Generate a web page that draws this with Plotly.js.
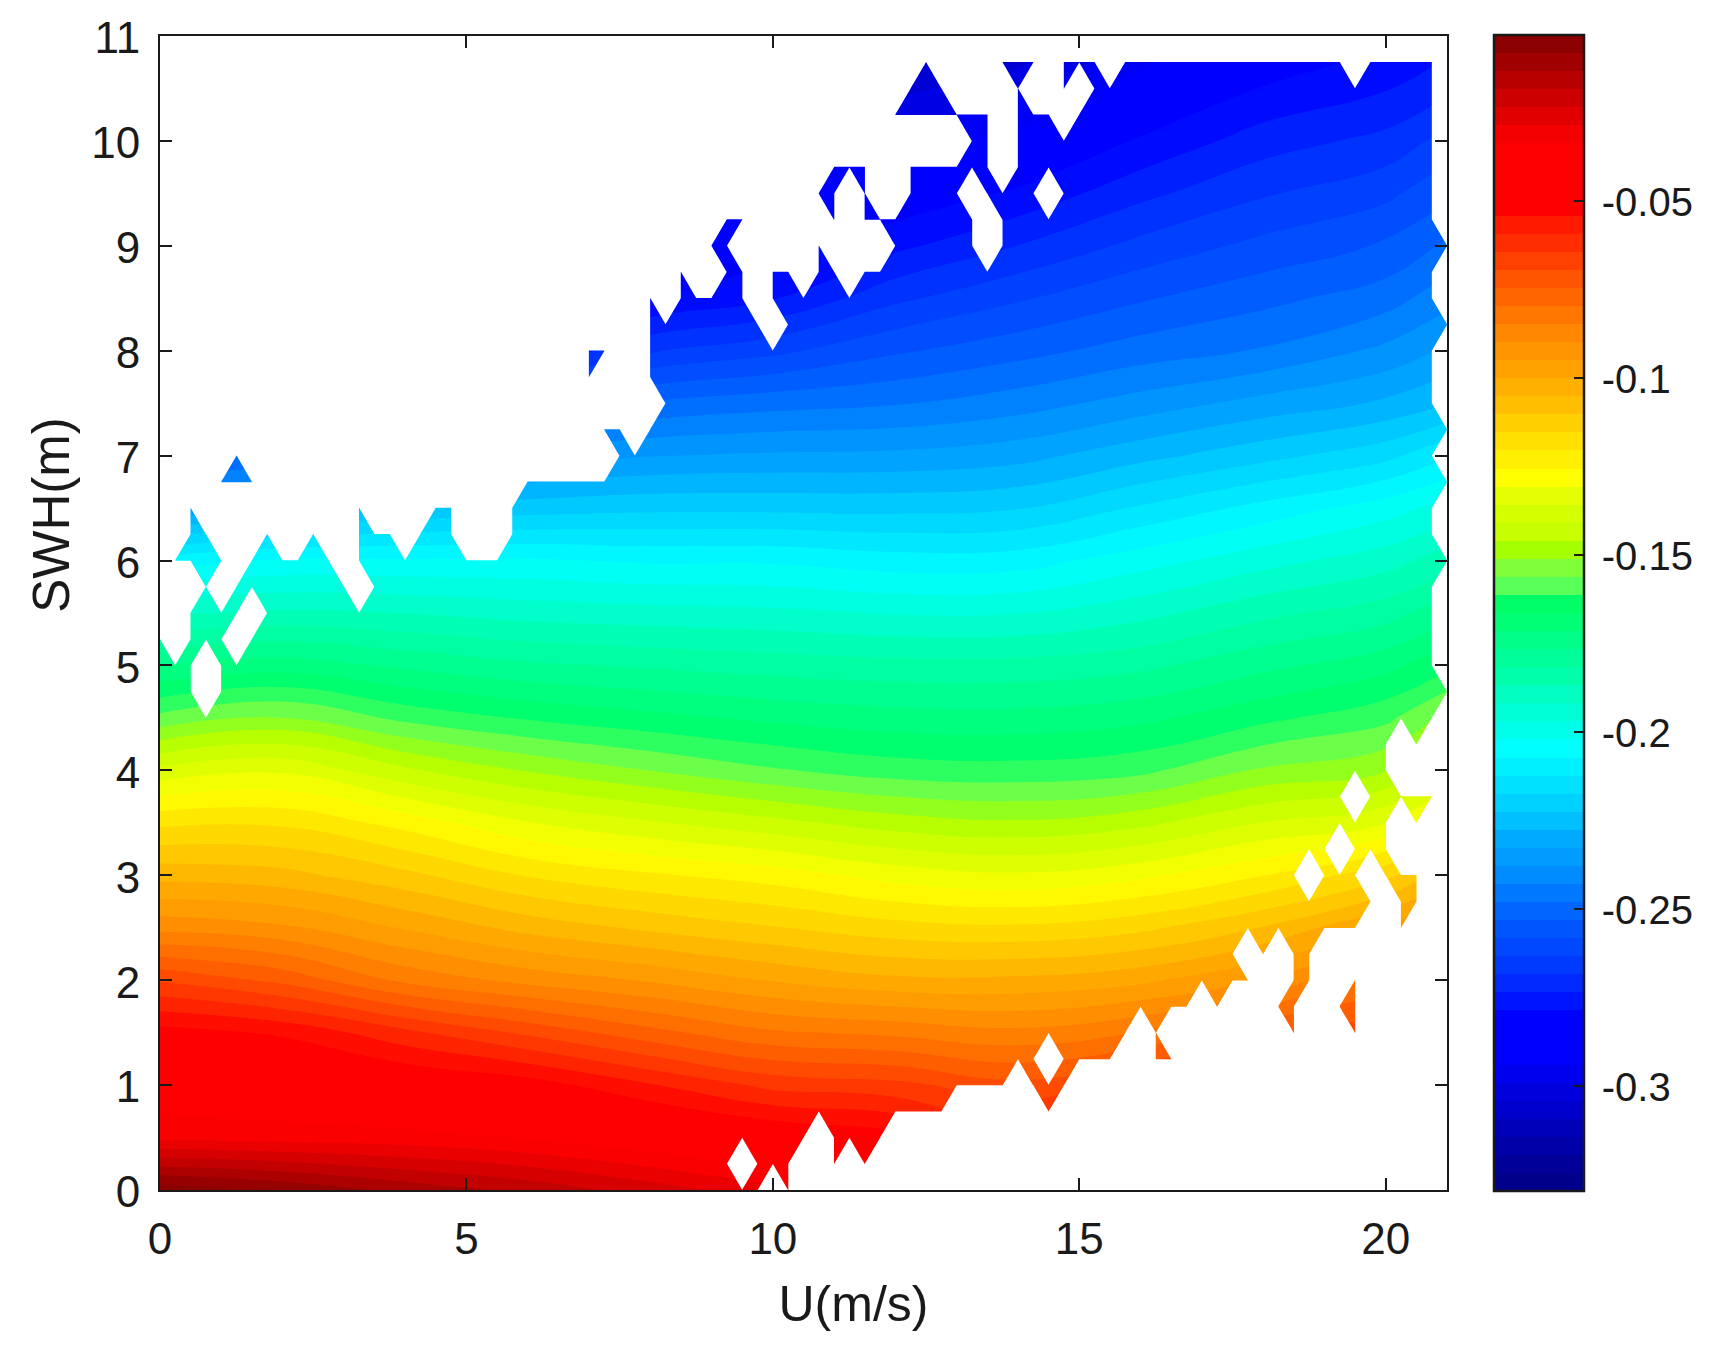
<!DOCTYPE html>
<html>
<head>
<meta charset="utf-8">
<script src="https://cdn.plot.ly/plotly-3.0.1.min.js"></script>
<style>html,body{margin:0;padding:0;background:#fff}</style>
</head>
<body>
<div id="chart" style="width:1720px;height:1355px"></div>
<script>
// wind speed positions of the value columns (m/s)
var uGrid = [0,2,4,6,8,10,12,14,16,18,20,21];
// wave height positions of the value rows (m)
var swhGrid = [0,.5,1,1.5,2,2.5,3,3.5,4,4.5,5,5.5,6,6.5,7,7.5,8,8.5,9,9.5,10,10.5,10.75];
var at0  = [5,35,43.5,52,70,91.6,107,121.7,139.3,159.8,176.8,192.7,209.9,238.4,257,272.7,288,295,300,305,308,312,314];
var at2  = [9,36,45.5,55,76,94,108.6,121.4,136.6,155.5,174,191,206.5,231,251,268.5,285,293,299,304,308,312,314];
var at4  = [15,37,48,63,86,100.6,114,127.6,145,162.7,177.6,192,206.5,227,245.6,264,282,291,298,303,307,311,313];
var at6  = [20,39.5,51.4,70.6,91.6,107,120.9,135.4,151.5,167,180.8,193.9,206.5,225,241,259,279,288,296,302,306,310,312];
var at8  = [26,43.8,58.8,77.9,95.6,111.4,124.9,140.2,156.3,170,182.5,195,208,223.8,238,252.5,269,284,292,298,303,307,309];
var at10 = [32,48.5,66,84,100.5,115,128,144.4,160.7,172.6,184,195.8,208,223.8,237,250,264.7,279,286,293,300,305,308];
var at12 = [36,52,68,86,104,118.4,132.8,148.5,163.8,174.4,185,197.4,210,224,236.6,248.5,259,269.6,280,288,296.6,305.5,310];
var at14 = [45,62,73,88.5,104,119.5,135,150.3,164.5,174.7,185,197.2,209.7,222.8,234.6,245.3,255,264,273.4,282.7,291.8,301,305];
var at16 = [45,58,67,84.6,101.4,116.7,132,147.4,162.7,172.8,183,193.6,204.4,216.7,229.3,240.7,250.7,258.8,266.9,275,283,291,295];
var at18 = [40,52,62,75,94.6,110,125.8,140.7,155.4,167.8,178,188.2,199,210.6,224.3,236,247.5,254.7,261.8,269,276,283.4,287];
var at20 = [45,55,63,72,83,99.2,116.9,135.9,151.6,162.7,173.3,184,194.2,204.5,219,231.9,241.6,250.4,257.5,264.7,271.9,279,282];
var at21 = [48,57,65,73,81,92,108,125.5,140.4,154.7,167.5,178.5,189.3,200,212.8,228,236.8,244.8,252.2,259.4,266.5,274.7,278];

// U ranges holding data, one list per SWH row from 0 to 11 in 0.25 steps
var validSpans = [
 [[0,9.75],[10.25,10.25]],
 [[0,9.25],[9.75,10.25],[11,11],[11.5,11.5]],
 [[0,10.5],[11,11.75]],
 [[0,12.75],[14.5,14.5]],
 [[0,13.75],[14.25,14.75]],
 [[0,14.25],[14.75,15.5],[16.25,16.5]],
 [[0,15.75],[16.25,16.25],[18.5,18.5],[19.5,19.5]],
 [[0,16.75],[17.25,17.25],[18.25,18.5],[19.25,19.5]],
 [[0,17.75],[18.5,18.75],[19.5,19.5]],
 [[0,17.5],[18,18],[18.5,18.75]],
 [[0,19.5],[20.25,20.25]],
 [[0,19.75],[20.25,20.5]],
 [[0,18.5],[19,19.5],[20,20.5]],
 [[0,19],[19.5,20]],
 [[0,20],[20.5,20.5]],
 [[0,19.25],[19.75,20.75]],
 [[0,20]],
 [[0,20],[20.5,20.5]],
 [[0,20.75]],
 [[0,.5],[1,21]],
 [[0,.5],[1,20.75]],
 [[0,0],[.5,1],[1.5,20.75]],
 [[.5,1.25],[1.75,20.75]],
 [[.75,.75],[1.25,3],[3.5,20.75]],
 [[.25,1],[1.5,2.75],[3.25,21]],
 [[.5,.75],[1.75,1.75],[2.5,2.5],[3.25,3.75],[4.25,4.75],[5.75,20.75]],
 [[.5,.5],[3.25,3.25],[4.5,4.75],[5.75,20.75]],
 [[1,1.5],[6,21]],
 [[1.25,1.25],[7.5,20.75]],
 [[7.25,7.5],[8,21]],
 [[8.25,20.75]],
 [[7,7],[8,20.75]],
 [[7,7.25],[8,20.75]],
 [[8,9.75],[10.25,21]],
 [[8,8],[8.5,9.5],[10,20.75]],
 [[8.5,8.5],[9.25,9.5],[10,10.25],[10.75,11],[11.5,20.75]],
 [[9,9.25],[10.75,10.75],[12,13.25],[13.75,21]],
 [[9.25,9.5],[11,11],[11.5,13.25],[13.75,20.75]],
 [[10.75,11],[11.5,11.5],[12.25,13],[13.5,14.25],[14.75,20.75]],
 [[11,11.5],[12.25,13.5],[14,20.75]],
 [[13.25,13.5],[14,20.75]],
 [[12,13.5],[14,14.5],[15,20.75]],
 [[12.25,12.75],[14,14],[14.75,14.75],[15.25,20.75]],
 [[12.5,12.5],[13.75,14.25],[14.75,15.25],[15.75,19.25],[19.75,20.75]],
 []
];

// the 64 colour bands, bottom of the colour bar to top
var bandColors = ['#00008b','#000098','#0000a8','#0000b8','#0000cc','#0000dd','#0000ee','#0000ff','#0000ff','#0000ff',
 '#0015ff','#002aff','#003aff','#0048ff','#0055ff','#0066ff','#0078ff','#008cff','#009cff','#00aaff',
 '#00c0ff','#00d2ff','#00e0ff','#00f0ff','#00ffff','#00ffea','#00ffd5','#00ffc0','#00ffaa','#00ff9a',
 '#00ff88','#00ff75','#00ff66','#5aff5a','#7fff3a','#a6ff00','#c8ff00','#d4ff00','#e6ff00','#ffff00',
 '#fff000','#ffe000','#ffd000','#ffbf00','#ffb000','#ffa200','#ff9500','#ff8800','#ff7700','#ff6600',
 '#ff5500','#ff4000','#ff2d00','#ff1a00','#ff0000','#ff0000','#ff0000','#ff0000','#f50000','#e00000',
 '#cc0000','#b80000','#a00000','#8b0000'];
var barTicks = [-0.3,-0.25,-0.2,-0.15,-0.1,-0.05];
var barTickText = ['-0.3','-0.25','-0.2','-0.15','-0.1','-0.05'];
var uTicks = [0,5,10,15,20];
var swhTicks = [0,1,2,3,4,5,6,7,8,9,10,11];
var zBottom = -0.3296, bandSize = 0.0051;

var columns = [at0,at2,at4,at6,at8,at10,at12,at14,at16,at18,at20,at21];
var zField = swhGrid.map(function(_, j){ return columns.map(function(c){ return -c[j]/1000; }); });

// contour colour map: band j is looked up at (j-0.5)/63
var scale = [[0,bandColors[0]]];
for (var b=1;b<64;b++) scale.push([(b-0.5)/63,bandColors[b]]);
scale.push([1,bandColors[63]]);
// colour bar: hard steps across the full value range
var stepScale = [];
for (var s=0;s<64;s++){ stepScale.push([s/64,bandColors[s]]); stepScale.push([(s+1)/64,bandColors[s]]); }

var fineU=[], fineS=[];
for (var i=0;i<=84;i++) fineU.push(i/4);
for (var j=0;j<=44;j++) fineS.push(j/4);
var zMask = fineS.map(function(_, r){
  return fineU.map(function(u){
    return validSpans[r].some(function(s){ return u>=s[0] && u<=s[1]; }) ? 0 : 1;
  });
});

var font = 'Liberation Sans, Arial, sans-serif', ink = '#1a1a1a';
var base = {
  type:'heatmap', x:uGrid, y:swhGrid, z:zField, zsmooth:'best', hoverinfo:'skip',
  colorscale:stepScale, zmin:zBottom, zmax:zBottom+64*bandSize,
  colorbar:{thicknessmode:'pixels', thickness:90, lenmode:'pixels', len:1156,
    x:1.0365, xanchor:'left', y:-0.0009, yanchor:'bottom', xpad:0, ypad:0,
    outlinecolor:ink, outlinewidth:2.5, ticks:'inside', ticklen:11, tickwidth:2, tickcolor:ink,
    tickmode:'array', tickvals:barTicks, ticktext:barTickText,
    tickfont:{family:font,size:40,color:ink}}
};
var field = {
  type:'contour', x:uGrid, y:swhGrid, z:zField, colorscale:scale, hoverinfo:'skip', showscale:false,
  contours:{start:zBottom+bandSize, end:zBottom+63*bandSize, size:bandSize, coloring:'fill', showlines:false},
  line:{width:0, smoothing:1.3}
};
var blank = {
  type:'contour', x:fineU, y:fineS, z:zMask, showscale:false, hoverinfo:'skip',
  colorscale:[[0,'rgba(255,255,255,0)'],[0.6,'rgba(255,255,255,0)'],[0.9,'rgb(255,255,255)'],[1,'rgb(255,255,255)']],
  contours:{start:0.01, end:0.01, size:1, coloring:'fill', showlines:false},
  line:{width:0, smoothing:0}
};
var layout = {
  width:1720, height:1355, paper_bgcolor:'#fff', plot_bgcolor:'#fff', showlegend:false,
  margin:{l:160, r:273, t:36, b:165, autoexpand:false},
  font:{family:font,color:ink},
  xaxis:{range:[0,21], tickmode:'array', tickvals:uTicks, ticks:'inside', ticklen:12, tickwidth:2, tickcolor:ink,
    showline:true, linecolor:ink, linewidth:2, mirror:'ticks', showgrid:false, zeroline:false,
    tickfont:{family:font,size:44,color:ink}, ticklabelstandoff:9,
    title:{text:'U(m/s)', font:{family:font,size:50,color:ink}, standoff:18}},
  yaxis:{range:[0,11], tickmode:'array', tickvals:swhTicks, ticks:'inside', ticklen:12, tickwidth:2, tickcolor:ink,
    showline:true, linecolor:ink, linewidth:2, mirror:'ticks', showgrid:false, zeroline:false,
    tickfont:{family:font,size:44,color:ink}, ticklabelstandoff:9,
    title:{text:'SWH(m)', font:{family:font,size:51,color:ink}, standoff:24}}
};
function nudge(sel,dx,dy){
  document.querySelectorAll(sel).forEach(function(el){
    el.setAttribute('transform','translate('+dx+','+dy+') '+(el.getAttribute('transform')||''));
  });
}
Plotly.newPlot('chart',[base,field,blank],layout,{displayModeBar:false,staticPlot:true}).then(function(){
  nudge('.xtitle',50,6);
  nudge('.ytitle',19,-98);
  nudge('.yaxislayer-above text',0,2);
  nudge('.cbaxis text',8,1);
});
</script>
</body>
</html>
